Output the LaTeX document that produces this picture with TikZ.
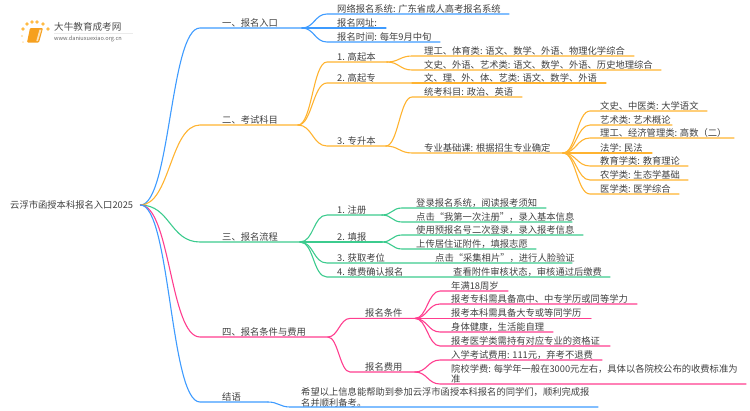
\documentclass[tikz,border=0pt]{standalone}
\usepackage{fontspec}
\setmainfont{Noto Sans CJK SC}
\definecolor{cblue}{HTML}{3E9BFF}
\definecolor{corange}{HTML}{FFB330}
\definecolor{cgreen}{HTML}{3CCB8E}
\definecolor{cpink}{HTML}{FF3E8F}
\definecolor{ctext}{HTML}{404040}
\definecolor{cbook}{HTML}{F6A01E}
\tikzset{
 lbl/.style={anchor=base west,inner sep=0pt,text=ctext,font=\fontsize{9.3}{10}\selectfont,yshift=1.8pt},
 conn/.style={line width=1.1pt,line cap=round,line join=round},
 sundot/.style={circle,fill=#1,inner sep=0pt,minimum size=3.6pt},
}
\usetikzlibrary{calc}
% name, colour, from, dx, line start x, line end x, y, text x, text
\newcommand\lf[9]{%
 \coordinate (#1-s) at (#5,#7);
 \coordinate (#1-e) at (#6,#7);
 \node[lbl] (#1) at (#8,#7) {#9};
 \draw[conn,#2] (#3) .. controls +(#4,0) and ($(#1-s)+(-#4,0)$) .. (#1-s) -- (#1-e);
}
\begin{document}
\begin{tikzpicture}[x=1pt,y=-1pt]
\useasboundingbox (0,0) rectangle (750,410);
% logo
\node[sundot=corange!90] (d1) at (23,29) {};
\node[sundot=corange!90] (d2) at (27,24) {};
\node[sundot=corange!90] (d3) at (32,22) {};
\node[sundot=corange!90] (d4) at (37,22) {};
\node[sundot=corange!90] (d5) at (43,24) {};
\node[sundot=corange!90] (d6) at (48,29) {};
\node[sundot=corange!45,minimum size=2.4pt] (d7) at (22,36) {};
\node[sundot=corange!35,minimum size=2pt] (d8) at (23,42) {};
\fill[cbook,rounded corners=1pt] (30,28) -- (43,28) -- (39,42.5) -- (27,42.5) -- cycle;
\fill[white!70!cbook] (39.5,29.5) -- (41.5,29.5) -- (38,41) -- (36.3,41) -- cycle;
\draw[black!8,line width=0.6pt] (54,33.5) -- (133,33.5);
\node[anchor=base west,inner sep=0pt,text=black!70,font=\fontsize{9.6}{10}\selectfont] (logoa) at (54,30.5) {大牛教育成考网};
\node[anchor=base west,inner sep=0pt,text=black!60,font=\fontsize{5.6}{6}\selectfont] (logob) at (54,40.5) {www.daniuxuexiao.org.cn};
% root
\node[anchor=base west,inner sep=0pt,text=ctext,font=\fontsize{9.3}{10}\selectfont] (root) at (10,208.5) {云浮市函授本科报名入口2025};
\coordinate (rootc) at ($(root.east |- 0,205)+(7,0)$);
% branch 1
\lf{b1}{cblue}{rootc}{30}{200}{302}{28}{222}{一、报名入口}
\lf{a1}{cblue}{b1-e}{12}{327}{509}{14}{337}{网络报名系统: 广东省成人高考报名系统}
\lf{a2}{cblue}{b1-e}{12}{327}{386}{28}{337}{报名网址:}
\lf{a3}{cblue}{b1-e}{12}{327}{440}{42}{337}{报名时间: 每年9月中旬}
% branch 2
\lf{b2}{corange}{rootc}{30}{200}{298}{125}{222}{二、考试科目}
\lf{c1}{corange}{b2-e}{14}{327}{387}{62}{337}{1. 高起本}
\lf{c2}{corange}{b2-e}{14}{327}{412}{83}{337}{2. 高起专}
\lf{c3}{corange}{b2-e}{14}{327}{386}{146}{337}{3. 专升本}
\lf{e1}{corange}{c1-e}{12}{412}{634}{56}{424}{理工、体育类: 语文、数学、外语、物理化学综合}
\lf{e2}{corange}{c1-e}{12}{412}{661}{70}{424}{文史、外语、艺术类: 语文、数学、外语、历史地理综合}
\lf{e3}{corange}{c2-e}{6}{424}{606}{83}{424}{文、理、外、体、艺类: 语文、数学、外语}
\lf{e4}{corange}{c3-e}{12}{412}{522}{97}{424}{统考科目: 政治、英语}
\lf{e5}{corange}{c3-e}{12}{412}{563}{153}{424}{专业基础课: 根据招生专业确定}
\lf{f1}{corange}{e5-e}{13}{590}{707}{111}{600}{文史、中医类: 大学语文}
\lf{f2}{corange}{e5-e}{13}{590}{672}{125}{600}{艺术类: 艺术概论}
\lf{f3}{corange}{e5-e}{13}{590}{734}{138}{600}{理工、经济管理类: 高数（二）}
\lf{f4}{corange}{e5-e}{13}{590}{652}{153}{600}{法学: 民法}
\lf{f5}{corange}{e5-e}{13}{590}{688}{166}{600}{教育学类: 教育理论}
\lf{f6}{corange}{e5-e}{13}{590}{688}{180}{600}{农学类: 生态学基础}
\lf{f7}{corange}{e5-e}{13}{590}{679}{194}{600}{医学类: 医学综合}
% branch 3
\lf{b3}{cgreen}{rootc}{30}{200}{300}{242}{222}{三、报名流程}
\lf{g1}{cgreen}{b3-e}{14}{327}{382}{215}{337}{1. 注册}
\lf{g2}{cgreen}{b3-e}{14}{327}{382}{242}{337}{2. 填报}
\lf{g3}{cgreen}{b3-e}{14}{327}{572}{263}{337}{3. 获取考位}
\lf{g4}{cgreen}{b3-e}{14}{327}{610}{277}{337}{4. 缴费确认报名}
\lf{h1}{cgreen}{g1-e}{10}{402}{546}{208}{416}{登录报名系统，阅读报考须知}
\lf{h2}{cgreen}{g1-e}{10}{402}{572}{222}{416}{点击“我第一次注册”，录入基本信息}
\lf{h3}{cgreen}{g2-e}{10}{402}{583}{235}{416}{使用预报名号二次登录，录入报考信息}
\lf{h4}{cgreen}{g2-e}{10}{402}{536}{249}{416}{上传居住证附件，填报志愿}
\node[lbl] (h5) at (435,263) {点击“采集相片”，进行人脸验证};
\node[lbl] (h6) at (453,277) {查看附件审核状态，审核通过后缴费};
% branch 4
\lf{b4}{cpink}{rootc}{30}{200}{328}{337}{222}{四、报名条件与费用}
\lf{i1}{cpink}{b4-e}{10}{350}{415}{318.4}{365}{报名条件}
\lf{i2}{cpink}{b4-e}{10}{350}{415}{372}{365}{报名费用}
\lf{j1}{cpink}{i1-e}{12}{440}{508}{291}{451}{年满18周岁}
\lf{j2}{cpink}{i1-e}{12}{440}{637}{304}{451}{报考专科需具备高中、中专学历或同等学力}
\lf{j3}{cpink}{i1-e}{12}{440}{591}{318.4}{451}{报考本科需具备大专或等同学历}
\lf{j4}{cpink}{i1-e}{12}{440}{553}{332}{451}{身体健康，生活能自理}
\lf{j5}{cpink}{i1-e}{12}{440}{610}{346}{451}{报考医学类需持有对应专业的资格证}
\lf{k1}{cpink}{i2-e}{12}{440}{602}{360}{451}{入学考试费用: 111元，弃考不退费}
\coordinate (k2-s) at (440,384);
\coordinate (k2-e) at (746,384);
\node[lbl,yshift=-2.5pt] (k2a) at (451,372.2) {院校学费: 每学年一般在3000元左右，具体以各院校公布的收费标准为};
\node[lbl,yshift=-2.5pt] (k2b) at (451,382.2) {准};
\draw[conn,cpink] (i2-e) .. controls +(12,0) and +(-12,0) .. (k2-s) -- (k2-e);
% branch 5
\lf{b5}{cblue}{rootc}{30}{200}{268}{402}{222}{结语}
\coordinate (l-s) at (290,407);
\coordinate (l-e) at (598,407);
\node[lbl,yshift=-2.5pt] (la) at (301,395.2) {希望以上信息能帮助到参加云浮市函授本科报名的同学们，顺利完成报};
\node[lbl,yshift=-2.5pt] (lb) at (301,405.7) {名并顺利备考。};
\draw[conn,cblue] (b5-e) .. controls +(10,0) and +(-10,0) .. (l-s) -- (l-e);
\end{tikzpicture}
\end{document}
